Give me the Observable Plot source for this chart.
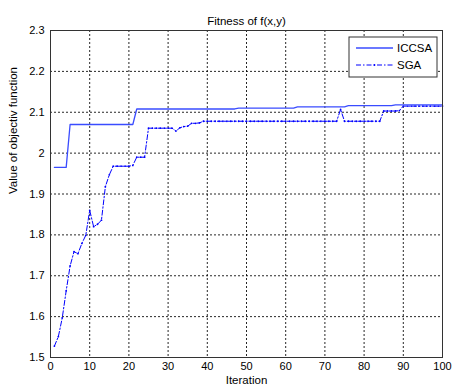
<!DOCTYPE html>
<html>
<head>
<meta charset="utf-8">
<script src="https://cdn.jsdelivr.net/npm/d3@7"></script>
<script src="https://cdn.jsdelivr.net/npm/@observablehq/plot@0.6"></script>
<style>
  body { margin: 0; background: #fff; }
  #chart svg { display: block; font-family: "Liberation Sans", Arial, sans-serif; }
</style>
</head>
<body>
<div id="chart"></div>
<script>
const title = "Fitness of f(x,y)";
const xLabel = "Iteration";
const yLabel = "Value of objectiv function";
const seriesNames = ["ICCSA", "SGA"];
const xTicks = [0, 10, 20, 30, 40, 50, 60, 70, 80, 90, 100];
const yTicks = [1.5, 1.6, 1.7, 1.8, 1.9, 2.0, 2.1, 2.2, 2.3];

const iterations = [
  1,2,3,4,5,6,7,8,9,10,11,12,13,14,15,16,17,18,19,20,
  21,22,23,24,25,26,27,28,29,30,31,32,33,34,35,36,37,38,39,40,
  41,42,43,44,45,46,47,48,49,50,51,52,53,54,55,56,57,58,59,60,
  61,62,63,64,65,66,67,68,69,70,71,72,73,74,75,76,77,78,79,80,
  81,82,83,84,85,86,87,88,89,90,91,92,93,94,95,96,97,98,99,100
];

const iccsa = [
  1.965,1.965,1.965,1.965,2.070,2.070,2.070,2.070,2.070,2.070,
  2.070,2.070,2.070,2.070,2.070,2.070,2.070,2.070,2.070,2.070,
  2.070,2.108,2.108,2.108,2.108,2.108,2.108,2.108,2.108,2.108,
  2.108,2.108,2.108,2.108,2.108,2.108,2.108,2.108,2.108,2.108,
  2.108,2.108,2.108,2.108,2.108,2.108,2.108,2.110,2.110,2.110,
  2.110,2.110,2.110,2.110,2.110,2.110,2.110,2.110,2.110,2.110,
  2.110,2.110,2.113,2.113,2.113,2.113,2.113,2.113,2.113,2.113,
  2.113,2.113,2.113,2.113,2.113,2.116,2.116,2.116,2.116,2.116,
  2.116,2.116,2.116,2.116,2.116,2.116,2.116,2.118,2.118,2.118,
  2.118,2.118,2.118,2.118,2.118,2.118,2.118,2.118,2.118,2.118
];

const sga = [
  1.528,1.551,1.597,1.663,1.724,1.759,1.754,1.779,1.799,1.860,
  1.820,1.826,1.836,1.918,1.947,1.968,1.968,1.968,1.968,1.968,
  1.970,1.990,1.990,1.990,2.061,2.061,2.061,2.061,2.061,2.061,
  2.061,2.054,2.062,2.065,2.066,2.073,2.073,2.074,2.078,2.078,
  2.078,2.078,2.078,2.078,2.078,2.078,2.078,2.078,2.078,2.078,
  2.078,2.078,2.078,2.078,2.078,2.078,2.078,2.078,2.078,2.078,
  2.078,2.078,2.078,2.078,2.078,2.078,2.078,2.078,2.078,2.078,
  2.078,2.078,2.078,2.107,2.078,2.078,2.078,2.078,2.078,2.078,
  2.078,2.078,2.078,2.078,2.103,2.103,2.103,2.103,2.104,2.115,
  2.115,2.115,2.115,2.115,2.115,2.115,2.115,2.115,2.115,2.115
];

const dataIccsa = iterations.map((x, i) => ({x, y: iccsa[i]}));
const dataSga = iterations.map((x, i) => ({x, y: sga[i]}));

const fmt = d => String(+d.toFixed(1));

const plot = Plot.plot({
  width: 452,
  height: 390,
  marginLeft: 50,
  marginRight: 10,
  marginTop: 30,
  marginBottom: 33,
  style: {fontSize: "11px", fontFamily: "Liberation Sans, Arial, sans-serif", color: "#000", background: "#fff"},
  x: {domain: [0, 100], label: null},
  y: {domain: [1.5, 2.3], label: null},
  marks: [
    Plot.gridX(xTicks.slice(1, -1), {stroke: "#000", strokeOpacity: 0.85, strokeDasharray: "2,2"}),
    Plot.gridY(yTicks.slice(1, -1), {stroke: "#000", strokeOpacity: 0.85, strokeDasharray: "2,2"}),
    Plot.axisX(xTicks, {tickSize: 0, tickPadding: 5, tickFormat: d => String(d), fontSize: 11}),
    Plot.axisY(yTicks, {tickSize: 0, tickPadding: 6, tickFormat: fmt, fontSize: 11}),
    Plot.line(dataSga, {x: "x", y: "y", stroke: "#0000ff", strokeWidth: 1, strokeDasharray: "5,2,1.5,2"}),
    Plot.dot(dataSga, {x: "x", y: "y", r: 0.9, fill: "#0000ff", stroke: "none"}),
    Plot.line(dataIccsa, {x: "x", y: "y", stroke: "#3a4cff", strokeWidth: 1.3}),
    Plot.frame({stroke: "#333", strokeWidth: 1}),
    Plot.text([title], {frameAnchor: "top", dy: -14, fontSize: 11.5}),
    Plot.text([xLabel], {frameAnchor: "bottom", dy: 26, fontSize: 11.5}),
    Plot.text([yLabel], {frameAnchor: "left", dx: -37, rotate: -90, fontSize: 11.5})
  ]
});

document.getElementById("chart").appendChild(plot);

// Legend box (top-right inside the plot frame)
const svg = d3.select(plot);
const lg = svg.append("g").attr("transform", "translate(349,37)");
lg.append("rect").attr("width", 88).attr("height", 40)
  .attr("fill", "#fff").attr("stroke", "#333").attr("stroke-width", 1);
const styles = [
  {dash: null, w: 1.3, c: "#3a4cff"},
  {dash: "5,2,1.5,2", w: 1, c: "#0000ff"}
];
seriesNames.forEach((name, i) => {
  const yy = 11 + i * 17;
  lg.append("line").attr("x1", 7).attr("x2", 44).attr("y1", yy).attr("y2", yy)
    .attr("stroke", styles[i].c).attr("stroke-width", styles[i].w)
    .attr("stroke-dasharray", styles[i].dash);
  if (i === 1) lg.append("circle").attr("cx", 25.5).attr("cy", yy).attr("r", 0.9).attr("fill", "#0000ff");
  lg.append("text").attr("x", 48).attr("y", yy).attr("dy", "0.35em")
    .attr("text-anchor", "start")
    .attr("font-size", 11.5).attr("fill", "#000").text(name);
});
</script>
</body>
</html>
